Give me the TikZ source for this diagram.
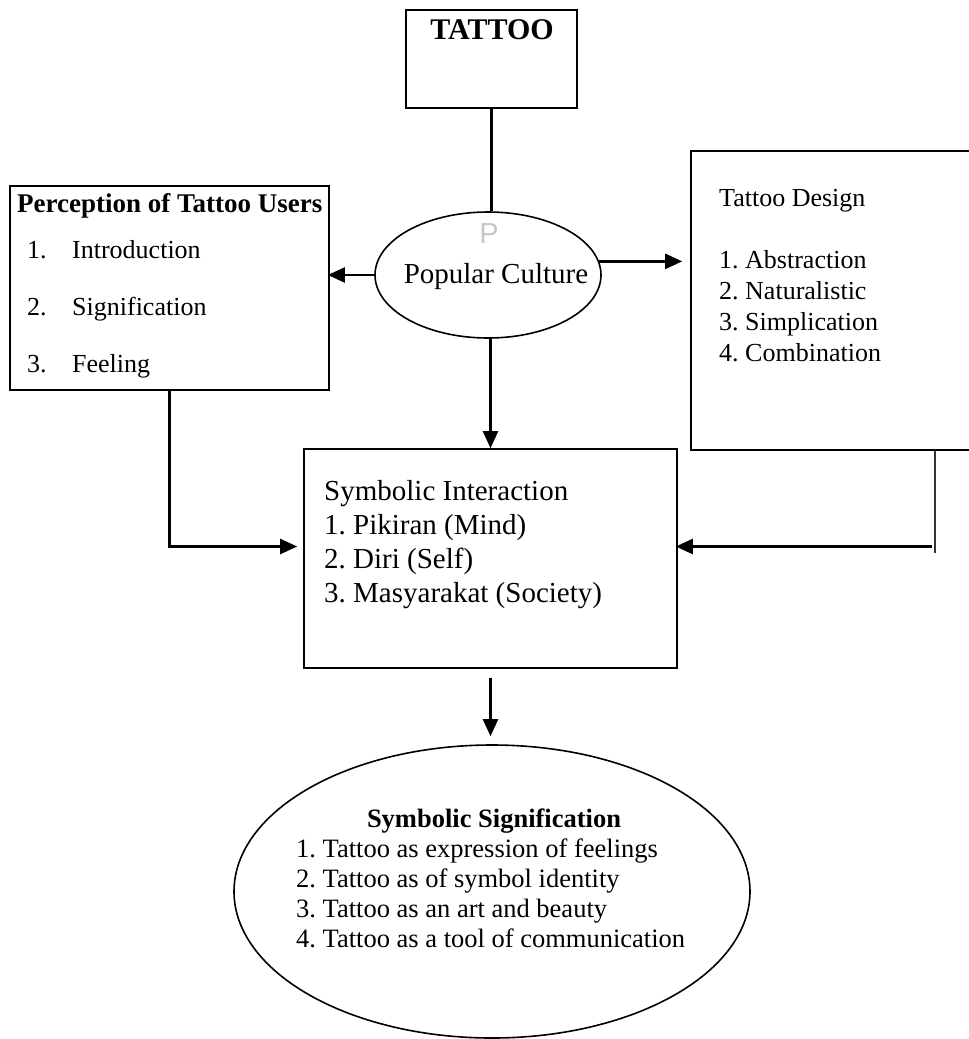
\documentclass[tikz,border=0pt]{standalone}
\usepackage{fontspec}
\setmainfont{Liberation Serif}
\setsansfont{Liberation Sans}
\usetikzlibrary{arrows.meta, shapes.geometric}

\newcommand{\sizedfont}[1]{\fontsize{#1}{#1}\selectfont}
\frenchspacing

\tikzset{
    box/.style={draw, line width=1.6pt, inner sep=0pt},
    oval/.style={draw, ellipse, line width=1.6pt, inner sep=0pt},
    link/.style={line width=2.3pt},
    arr/.style={line width=2.3pt, -{Triangle[length=17pt, width=15pt]}},
    hair/.style={line width=1.1pt, black!80},
    txt/.style={anchor=base west, inner sep=0pt, font=\sizedfont{26}}
}

\begin{document}
\begin{tikzpicture}[x=1pt, y=-1pt]
    \useasboundingbox (0, 0) rectangle (969, 1039);

    % boxes and ovals
    \node[box, minimum width=171pt, minimum height=98pt] (tattoo) at (491.5, 59) {};
    \node[box, minimum width=319pt, minimum height=204pt] (perception) at (169.5, 288) {};
    \node[box, minimum width=319pt, minimum height=299pt] (design) at (850.5, 300.5) {};
    \node[box, minimum width=373pt, minimum height=219pt] (interaction) at (490.5, 558.5) {};
    \node[oval, minimum width=226pt, minimum height=126pt] (popular) at (488, 275) {};
    \node[oval, minimum width=516pt, minimum height=293pt] (signif) at (492, 891.5) {};

    % texts
    \node[anchor=base, inner sep=0pt, font=\sizedfont{30}\bfseries] (tattoo-title) at (492, 39) {TATTOO};
    \node[anchor=base, inner sep=0pt, font=\sizedfont{29}\sffamily, text=black!22] (popular-mark) at (489, 243) {P};
    \node[anchor=base, inner sep=0pt, font=\sizedfont{29}] (popular-title) at (496, 283) {Popular Culture};
    \node[txt, font=\sizedfont{27}\bfseries] (perception-title) at (17, 212) {Perception of Tattoo Users};
    \path
        \foreach \y/\n/\t in {258/1/Introduction, 315/2/Signification, 372/3/Feeling} {
            (27, \y) node[txt] (perception-n\n) {\n.}
            (72, \y) node[txt] (perception-t\n) {\t}
        };
    \node[txt] (design-title) at (719, 206) {Tattoo Design};
    \path
        \foreach \y/\n/\t in {268/1/Abstraction, 299/2/Naturalistic, 330/3/Simplication, 361/4/Combination} {
            (719, \y) node[txt] (design-\n) {\n. \t}
        };
    \path
        \foreach \y/\n/\t in {
            500/0/{Symbolic Interaction},
            534/1/{1. Pikiran (Mind)},
            568/2/{2. Diri (Self)},
            602/3/{3. Masyarakat (Society)}
        } {
            (324, \y) node[txt, font=\sizedfont{29}] (interaction-\n) {\t}
        };
    \node[anchor=base, inner sep=0pt, font=\sizedfont{26.5}\bfseries] (signif-title) at (494, 827) {Symbolic Signification};
    \path
        \foreach \y/\n/\t in {
            857/1/{Tattoo as expression of feelings},
            887/2/{Tattoo as of symbol identity},
            917/3/{Tattoo as an art and beauty},
            947/4/{Tattoo as a tool of communication}
        } {
            (296, \y) node[txt, font=\sizedfont{26.5}] (signif-\n) {\n. \t}
        };

    % connectors
    \coordinate (dtail) at (935, 553);
    \coordinate (rjoin) at (932, 546.5);
    \draw[link] (tattoo.south) -- (tattoo.south |- popular.north);
    \draw[arr, shorten >=-2pt] (popular.west) -- (popular.west -| perception.east);
    \draw[arr, shorten >=8pt] (popular.7) -- (popular.7 -| design.west);
    \draw[arr] (popular.south -| interaction.north) -- (interaction.north);
    \draw[arr, shorten >=6pt] (perception.south) |- ([yshift=12pt]interaction.west);
    \draw[hair] (design.south -| dtail) -- (dtail);
    \draw[arr, shorten >=-2pt] (rjoin) -- (rjoin -| interaction.east);
    \draw[arr, shorten <=9pt, shorten >=8pt] (interaction.south) -- (interaction.south |- signif.north);
\end{tikzpicture}
\end{document}
